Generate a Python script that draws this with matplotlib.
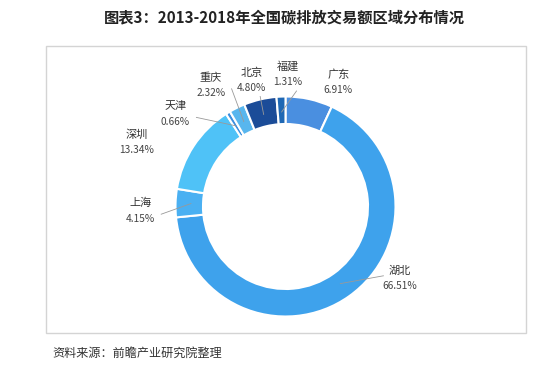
import numpy as np
import matplotlib.pyplot as plt
from matplotlib.patches import Rectangle

plt.rcParams['font.family'] = ['Noto Sans CJK SC', 'DejaVu Sans']

# data, clockwise from 12 o'clock
regions = ['广东', '湖北', '上海', '深圳', '天津', '重庆', '北京', '福建']
shares = [6.91, 66.51, 4.15, 13.34, 0.66, 2.32, 4.80, 1.31]
colors = ['#4a8fe0', '#3ea2ec', '#4ab0f2', '#4fc2f7', '#3c8ede', '#58b6ee', '#1b4c98', '#1f68b4']

# label placement (data units around a unit circle) and whether to draw a leader
label_pos = [(0.48, 1.13), (1.04, -0.65), (-1.32, -0.04), (-1.35, 0.58),
             (-1.00, 0.84), (-0.68, 1.10), (-0.31, 1.15), (0.02, 1.20)]
leader = [False, True, True, False, True, True, True, True]

W, H = 553, 371
fig = plt.figure(figsize=(W / 100, H / 100), dpi=100)

# frame
fig.patches.append(Rectangle((46 / W, 1 - 333 / H), 480 / W, 287 / H,
                             transform=fig.transFigure, fill=False,
                             edgecolor='#d4d4d4', lw=1))

cx, cy, R = 285.5, 206.5, 110
ax = fig.add_axes([(cx - R) / W, 1 - (cy + R) / H, 2 * R / W, 2 * R / H])
ax.pie(shares, colors=colors, startangle=90, counterclock=False, radius=1,
       wedgeprops=dict(width=0.25, edgecolor='white', linewidth=1.5))
ax.set_xlim(-1, 1)
ax.set_ylim(-1, 1)
ax.set_aspect('equal')
ax.axis('off')

cum = np.cumsum([0] + shares[:-1])
for i, (name, v) in enumerate(zip(regions, shares)):
    mid = np.deg2rad(90 - (cum[i] + v / 2) * 3.6)
    lx, ly = label_pos[i]
    ax.text(lx, ly + 0.07, name, ha='center', va='center', fontsize=8,
            color='#333333', clip_on=False)
    ax.text(lx, ly - 0.07, f'{v:.2f}%', ha='center', va='center', fontsize=7.3,
            color='#444444', clip_on=False)
    if leader[i]:
        sx, sy = 0.86 * np.cos(mid), 0.86 * np.sin(mid)
        if lx < -0.5:
            ex, ey = lx + 0.19, ly - 0.03
        elif lx > 0.5:
            ex, ey = lx - 0.15, ly + 0.02
        else:
            ex, ey = lx + 0.08, ly - 0.15
        ax.plot([sx, ex], [sy, ey], color='#999999', lw=0.6, clip_on=False)

fig.text(284 / W, 1 - 17 / H, '图表3：2013-2018年全国碳排放交易额区域分布情况',
         ha='center', va='center', fontsize=11, fontweight='bold', color='#222222')
fig.text(52 / W, 1 - 353 / H, '资料来源：前瞻产业研究院整理',
         ha='left', va='center', fontsize=8.7, style='italic', color='#333333')

fig.savefig('out.png', dpi=100)
